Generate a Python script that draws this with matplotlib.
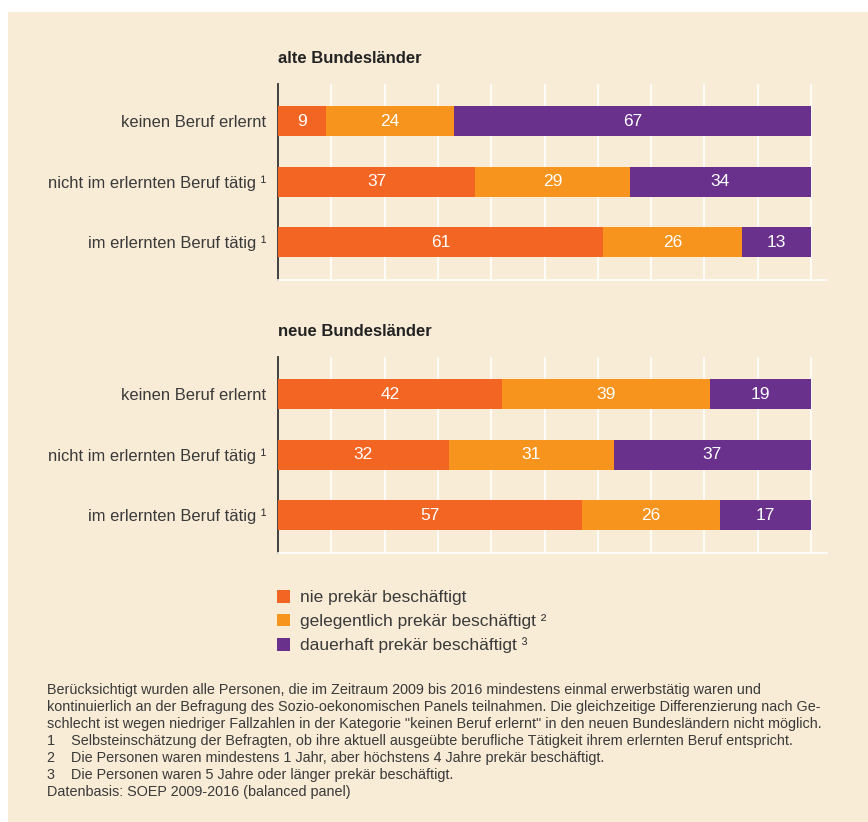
import matplotlib.pyplot as plt
from matplotlib.patches import Patch, Rectangle

plt.rcParams['font.family'] = ['Liberation Sans', 'DejaVu Sans']

categories = ["keinen Beruf erlernt", "nicht im erlernten Beruf tätig ¹", "im erlernten Beruf tätig ¹"]
series_names = ["nie prekär beschäftigt", "gelegentlich prekär beschäftigt ²", "dauerhaft prekär beschäftigt ³"]

alt_nie = [9, 37, 61]
alt_gelegentlich = [24, 29, 26]
alt_dauerhaft = [67, 34, 13]

neu_nie = [42, 32, 57]
neu_gelegentlich = [39, 31, 26]
neu_dauerhaft = [19, 37, 17]

colors = ["#F26522", "#F7941D", "#69308C"]
bg = "#F8ECD7"
txt = "#3A3A3A"

W, H = 868, 822
fig = plt.figure(figsize=(W / 100, H / 100), dpi=100)
fig.patch.set_facecolor("white")
fig.patches.append(Rectangle((8 / W, 0), 1, 1 - 12 / H, transform=fig.transFigure,
                             facecolor=bg, edgecolor="none", zorder=-10))


def px(left, top, right, bottom):
    return [left / W, 1 - bottom / H, (right - left) / W, (bottom - top) / H]


def panel(rect, title, data):
    ax = fig.add_axes(px(*rect))
    ax.set_facecolor(bg)
    y = range(len(categories))
    left = [0] * len(categories)
    for vals, c in zip(data, colors):
        bars = ax.barh(y, vals, left=left, height=0.5, color=c, zorder=3)
        ax.bar_label(bars, labels=[str(v) for v in vals], label_type="center",
                     color="white", fontsize=12.5)
        left = [a + b for a, b in zip(left, vals)]
    ax.set_xlim(0, 103)
    ax.set_ylim(2.63, -0.62)
    ax.set_xticks(range(0, 101, 10))
    ax.tick_params(axis="x", length=0, labelbottom=False)
    ax.tick_params(axis="y", length=0, pad=8.5, labelsize=11.9, labelcolor=txt)
    ax.set_yticks(list(y))
    ax.set_yticklabels(categories)
    ax.grid(axis="x", color="white", linewidth=1.2, zorder=0)
    for s in ["top", "right"]:
        ax.spines[s].set_visible(False)
    ax.spines["left"].set_color("#333333")
    ax.spines["left"].set_linewidth(1.3)
    ax.spines["bottom"].set_color("white")
    ax.spines["bottom"].set_linewidth(1.2)
    ax.set_title(title, loc="left", fontsize=12, fontweight="bold", color="#222222", pad=15)
    return ax


panel((278, 84, 827, 280), "alte Bundesländer", [alt_nie, alt_gelegentlich, alt_dauerhaft])
panel((278, 357, 827, 553), "neue Bundesländer", [neu_nie, neu_gelegentlich, neu_dauerhaft])

handles = [Patch(facecolor=c, edgecolor="none") for c in colors]
fig.legend(handles, series_names, loc="upper left", bbox_to_anchor=(277 / W, 1 - 590 / H),
           frameon=False, fontsize=12.5, labelcolor=txt, handlelength=0.75, handleheight=0.75,
           handletextpad=0.6, labelspacing=0.48, borderaxespad=0, borderpad=0)

notes = ("Berücksichtigt wurden alle Personen, die im Zeitraum 2009 bis 2016 mindestens einmal erwerbstätig waren und\n"
         "kontinuierlich an der Befragung des Sozio-oekonomischen Panels teilnahmen. Die gleichzeitige Differenzierung nach Ge-\n"
         "schlecht ist wegen niedriger Fallzahlen in der Kategorie \"keinen Beruf erlernt\" in den neuen Bundesländern nicht möglich.\n"
         "1    Selbsteinschätzung der Befragten, ob ihre aktuell ausgeübte berufliche Tätigkeit ihrem erlernten Beruf entspricht.\n"
         "2    Die Personen waren mindestens 1 Jahr, aber höchstens 4 Jahre prekär beschäftigt.\n"
         "3    Die Personen waren 5 Jahre oder länger prekär beschäftigt.\n"
         "Datenbasis: SOEP 2009-2016 (balanced panel)")
fig.text(47 / W, 1 - 683 / H, notes, ha="left", va="top", fontsize=10.4, color=txt,
         linespacing=1.28, family=["Liberation Sans Narrow", "Liberation Sans"])

fig.savefig("out.png", dpi=100, facecolor=fig.get_facecolor())
